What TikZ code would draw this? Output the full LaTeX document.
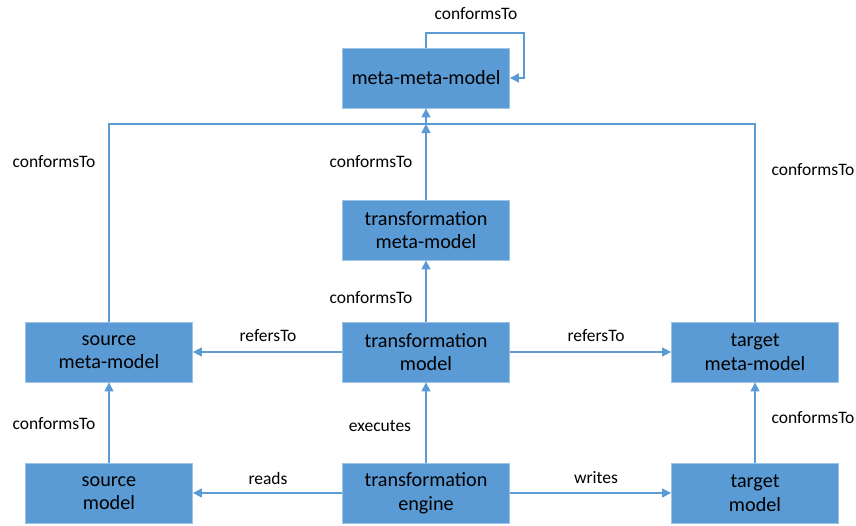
\documentclass[tikz,border=0pt]{standalone}
\usepackage{fontspec}
\setmainfont{Carlito}
\usetikzlibrary{arrows.meta}
\definecolor{boxfill}{HTML}{5B9BD5}
\definecolor{boxline}{HTML}{9DC3E6}
\definecolor{wire}{HTML}{5B9BD5}
\tikzset{
  mbox/.style={draw=boxline, line width=0.8pt, fill=boxfill, minimum width=167pt, minimum height=60pt,
    inner sep=0pt, align=center, font=\fontsize{20.2}{23.5}\selectfont, text=black},
  wirearrow/.style={draw=wire, line width=1.3pt, -{Triangle[length=9pt,width=9pt]}},
  wireline/.style={draw=wire, line width=1.3pt},
  lbl/.style={font=\fontsize{17.5}{20}\selectfont, inner sep=0pt}
}
\begin{document}
\begin{tikzpicture}[x=1pt,y=-1pt]
\useasboundingbox (0,0) rectangle (856,525);
% boxes
\node[mbox] (mmm) at (426,78) {meta-meta-model};
\node[mbox] (tmm) at (426,230) {transformation\\meta-model};
\node[mbox] (smm) at (109,352) {source\\meta-model};
\node[mbox] (tm)  at (426,352) {transformation\\model};
\node[mbox] (gmm) at (755,352) {target\\meta-model};
\node[mbox] (sm)  at (109,493) {source\\model};
\node[mbox] (te)  at (426,493) {transformation\\engine};
\node[mbox] (gm)  at (755,493) {target\\model};
% helper points
\coordinate (bus) at (426,124);
\coordinate (loopA) at (426,33);
\coordinate (loopB) at (524,33);
\coordinate (loopC) at (524,78);
% self loop on meta-meta-model
\draw[wirearrow] (mmm.north) -- (loopA) -- (loopB) -- (loopC) -- (mmm.east);
% bus from source and target meta-models
\draw[wireline] (smm.north) |- (bus) -| (gmm.north);
\draw[wirearrow] (bus) -- (mmm.south);
\draw[wirearrow] (tmm.north) -- (bus);
% vertical conformsTo / executes
\draw[wirearrow] (tm.north) -- (tmm.south);
\draw[wirearrow] (sm.north) -- (smm.south);
\draw[wirearrow] (gm.north) -- (gmm.south);
\draw[wirearrow] (te.north) -- (tm.south);
% horizontal
\draw[wirearrow] (tm.west) -- (smm.east);
\draw[wirearrow] (tm.east) -- (gmm.west);
\draw[wirearrow] (te.west) -- (sm.east);
\draw[wirearrow] (te.east) -- (gm.west);
% labels
\node[lbl] (l1) at (476,14) {conformsTo};
\node[lbl] (l2) at (54,162) {conformsTo};
\node[lbl] (l3) at (371,162) {conformsTo};
\node[lbl] (l4) at (813,170) {conformsTo};
\node[lbl] (l5) at (371,298) {conformsTo};
\node[lbl] (l6) at (268,336) {refersTo};
\node[lbl] (l7) at (596,336) {refersTo};
\node[lbl] (l8) at (54,424) {conformsTo};
\node[lbl] (l9) at (380,426) {executes};
\node[lbl] (l10) at (813,418) {conformsTo};
\node[lbl] (l11) at (268,478) {reads};
\node[lbl] (l12) at (596,478) {writes};
\end{tikzpicture}
\end{document}
